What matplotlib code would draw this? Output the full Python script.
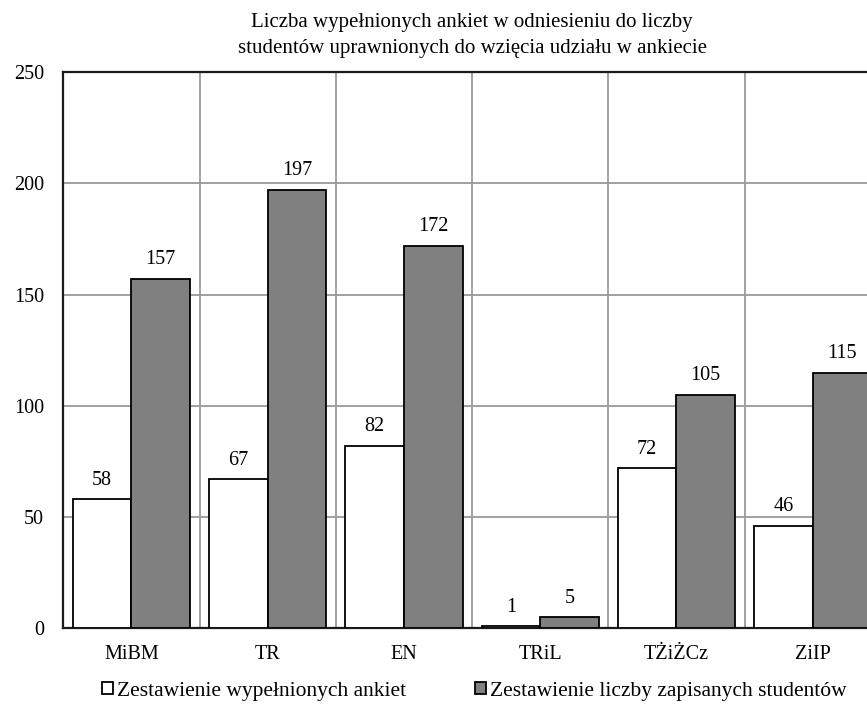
import matplotlib.pyplot as plt
import numpy as np

kierunki = ["MiBM", "TR", "EN", "TRiL", "TŻiŻCz", "ZiIP"]
ankiety = [58, 67, 82, 1, 72, 46]
studenci = [157, 197, 172, 5, 105, 115]
y_ticks = [0, 50, 100, 150, 200, 250]

plt.rcParams['font.family'] = ['Liberation Serif', 'DejaVu Serif']

fig = plt.figure(figsize=(8.67, 7.06), dpi=100)
ax = fig.add_axes([0.073, 0.1098, 0.943, 0.788])

x = np.arange(len(kierunki))
w = 0.43
b1 = ax.bar(x, ankiety, width=-w, align='edge', color='white', edgecolor='black',
            linewidth=1.3, label='Zestawienie wypełnionych ankiet', zorder=3)
b2 = ax.bar(x, studenci, width=w, align='edge', color='#808080', edgecolor='black',
            linewidth=1.3, label='Zestawienie liczby zapisanych studentów', zorder=3)
ax.bar_label(b1, padding=7, fontsize=14.5)
ax.bar_label(b2, padding=7, fontsize=14.5)

ax.set_xlim(-0.5, 5.5)
ax.set_ylim(0, 250)
ax.set_yticks(y_ticks)
ax.set_xticks(x)
ax.set_xticklabels(kierunki)
ax.set_xticks(x + 0.5, minor=True)
ax.tick_params(axis='both', which='both', length=0, labelsize=14.5)
ax.tick_params(axis='y', pad=14)
ax.tick_params(axis='x', pad=12)
ax.grid(axis='y', which='major', color='#9a9a9a', linewidth=1.3, zorder=0)
ax.grid(axis='x', which='minor', color='#9a9a9a', linewidth=1.3, zorder=0)

for s in ['left', 'bottom', 'top']:
    ax.spines[s].set_linewidth(1.6)
    ax.spines[s].set_color('#1a1a1a')
ax.spines['right'].set_visible(False)

ax.set_title('Liczba wypełnionych ankiet w odniesieniu do liczby\n'
             'studentów uprawnionych do wzięcia udziału w ankiecie',
             fontsize=15, pad=14, linespacing=1.45)

fig.legend(handles=[b1, b2], loc='center', bbox_to_anchor=(0.547, 0.021), ncol=2,
           frameon=False, fontsize=15.5, handlelength=0.5, handleheight=0.5,
           handletextpad=0.2, columnspacing=3.2)

plt.savefig('out.png', dpi=100)
